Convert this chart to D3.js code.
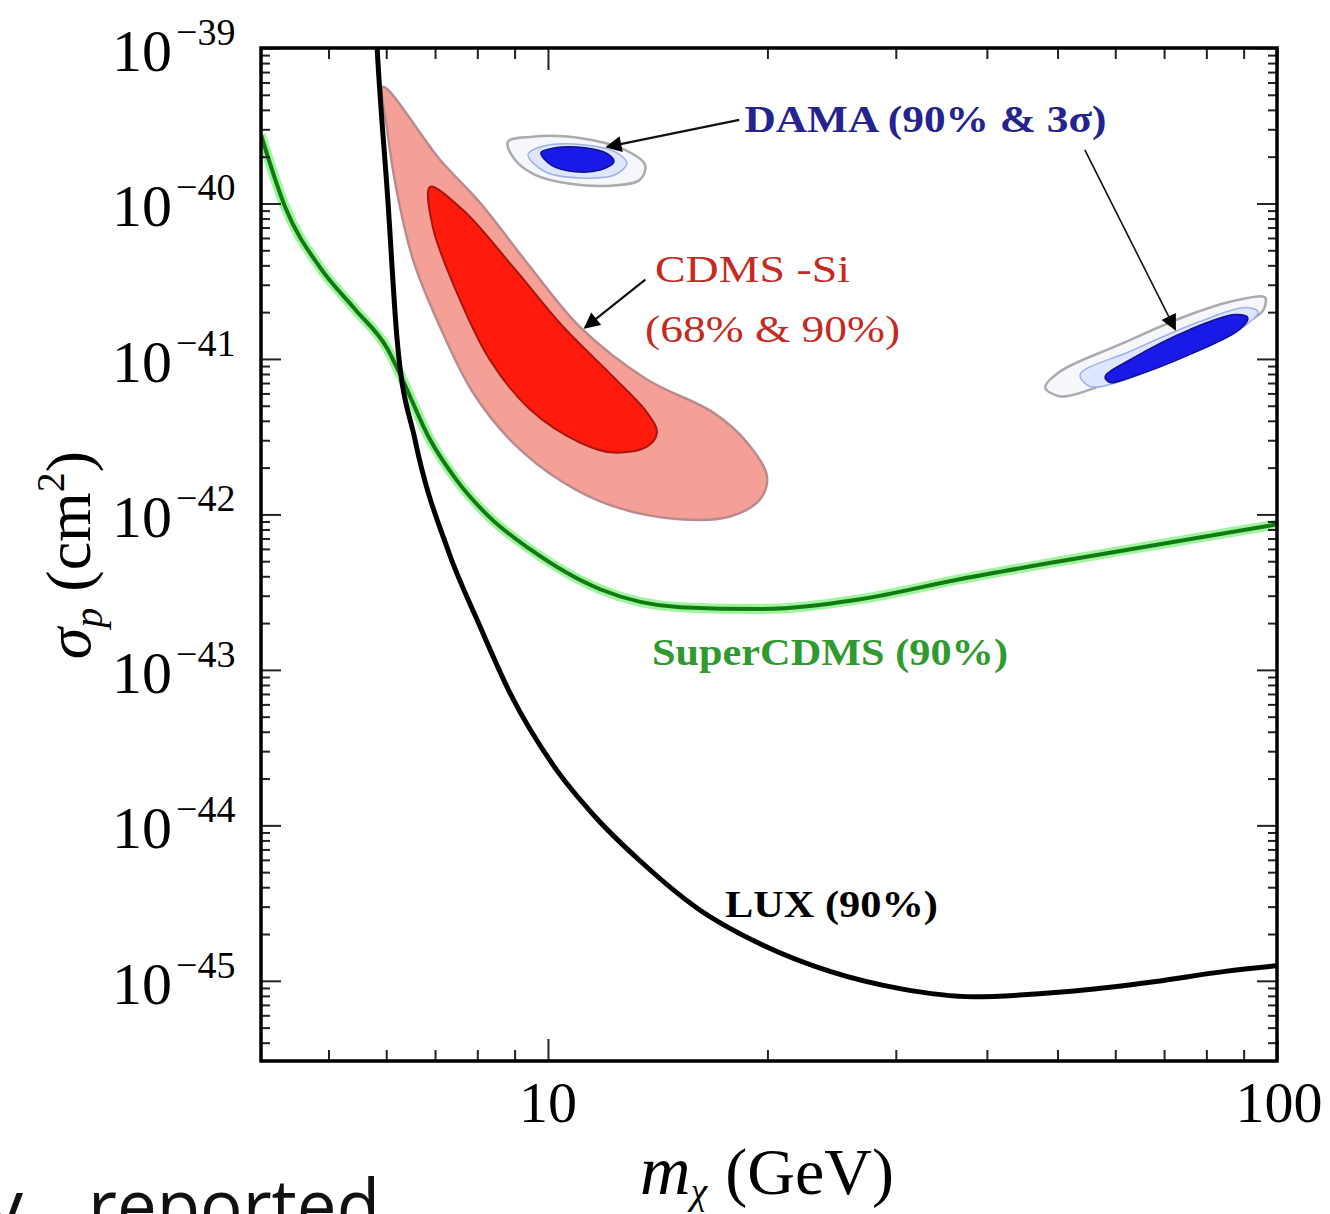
<!DOCTYPE html>
<html>
<head>
<meta charset="utf-8">
<script src="https://cdn.jsdelivr.net/npm/d3@7"></script>
<style>
  body { margin: 0; background: #fff; }
  svg { display: block; }
</style>
</head>
<body>
<svg id="chart" width="1330" height="1214"></svg>
<script>
// ---- data (mass in GeV, cross section in cm^2) ----
const luxLimit = [
  [5.76, 3e-39], [5.83, 1e-39], [6.03, 1.06e-40], [6.21, 1.33e-41], [6.57, 3.03e-42],
  [7.31, 5.71e-43], [8.02, 2.03e-43], [8.87, 7.1e-44], [10.16, 2.45e-44], [11.64, 1.12e-44],
  [13.37, 5.92e-45], [16.06, 2.91e-45], [19.54, 1.73e-45], [24.37, 1.15e-45], [30.4, 8.91e-46],
  [38.3, 7.9e-46], [51.2, 8.5e-46], [68.2, 9.9e-46], [84.9, 1.15e-45], [100, 1.25e-45]
];
const superCdmsLimit = [
  [4.04, 2.76e-40], [4.36, 9.5e-41], [4.87, 3.86e-41], [5.44, 2.08e-41], [6.03, 1.15e-41],
  [6.27, 7.94e-42], [6.89, 3.03e-42], [7.48, 1.68e-42], [8.32, 9.57e-43], [9.45, 5.97e-43],
  [11.79, 3.3e-43], [15.18, 2.53e-43], [19.54, 2.46e-43], [26.8, 2.85e-43], [36.7, 3.83e-43],
  [50.4, 5.0e-43], [69.1, 6.43e-43], [100, 8.63e-43]
];
const cdmsSi90 = [
  [5.94, 5.62e-40], [7.11, 1.91e-40], [8.07, 1.01e-40], [9.45, 3.92e-41], [11.06, 1.61e-41],
  [13.67, 7.38e-42], [16.84, 4.53e-42], [18.75, 2.9e-42], [19.97, 1.76e-42], [19.54, 1.25e-42],
  [17.77, 9.7e-43], [15.18, 9.3e-43], [12.28, 1.13e-42], [10.49, 1.61e-42], [8.95, 2.9e-42],
  [7.89, 6.08e-42], [7.11, 1.61e-41], [6.53, 4.35e-41], [6.21, 1.17e-40], [6.01, 3.11e-40]
];
const cdmsSi68 = [
  [6.89, 1.28e-40], [7.64, 9.1e-41], [8.95, 3.92e-41], [10.49, 1.61e-41], [12.28, 7.7e-42],
  [13.67, 4.53e-42], [14.11, 3.37e-42], [13.67, 2.73e-42], [12.28, 2.5e-42], [11.06, 2.9e-42],
  [9.45, 4.73e-42], [8.32, 9.9e-42], [7.50, 2.67e-41], [6.95, 7.08e-41]
];
const damaLowOuter = [
  [8.81, 2.49e-40], [9.45, 2.68e-40], [11.06, 2.64e-40], [12.75, 2.21e-40], [13.59, 1.77e-40],
  [13.37, 1.42e-40], [12.16, 1.30e-40], [10.72, 1.34e-40], [9.60, 1.53e-40], [9.01, 1.91e-40]
];
const damaLowMid = [
  [9.39, 2.06e-40], [9.91, 2.35e-40], [11.24, 2.38e-40], [12.36, 2.15e-40], [12.83, 1.82e-40],
  [12.36, 1.53e-40], [11.06, 1.46e-40], [9.91, 1.60e-40]
];
const damaLowInner = [
  [9.78, 2.12e-40], [10.22, 2.28e-40], [11.24, 2.28e-40], [12.09, 2.08e-40], [12.32, 1.85e-40],
  [11.79, 1.64e-40], [10.89, 1.60e-40], [10.13, 1.75e-40]
];
const damaHighOuter = [
  [48.1, 6.55e-42], [50.4, 8.3e-42], [60.9, 1.24e-41], [76.0, 1.93e-41], [88.9, 2.41e-41],
  [96.3, 2.48e-41], [95.4, 2.01e-41], [86.2, 1.55e-41], [69.1, 9.9e-42], [55.4, 6.35e-42],
  [50.4, 5.74e-42]
];
const damaHighMid = [
  [53.7, 7.94e-42], [62.9, 1.12e-41], [78.4, 1.74e-41], [90.4, 2.14e-41], [94.2, 2.01e-41],
  [88.9, 1.55e-41], [73.6, 1.02e-41], [60.9, 7.16e-42], [55.4, 6.65e-42]
];
const damaHighInner = [
  [58.1, 7.71e-42], [62.9, 9.9e-42], [76.0, 1.55e-41], [87.6, 1.93e-41], [91.2, 1.84e-41],
  [88.9, 1.55e-41], [76.0, 1.07e-41], [62.9, 7.6e-42], [59.0, 7.05e-42]
];

// tick values and labels
const xMajor = [10, 100];
const xMinor = [5, 6, 7, 8, 9, 20, 30, 40, 50, 60, 70, 80, 90];
const xTickLabels = ["10", "100"];
const yMajor = [1e-39, 1e-40, 1e-41, 1e-42, 1e-43, 1e-44, 1e-45];
const yTickExps = ["\u221239", "\u221240", "\u221241", "\u221242", "\u221243", "\u221244", "\u221245"];

// annotations: [mass, sigma] anchors
const labels = [
  {text: "DAMA (90% & 3\u03c3)", at: [18.6, 2.88e-40], color: "#25238f", weight: "bold", width: 362},
  {text: "CDMS -Si", at: [14.02, 3.14e-41], color: "#c42a22", weight: "normal", width: 195},
  {text: "(68% & 90%)", at: [13.59, 1.29e-41], color: "#c42a22", weight: "normal", width: 255},
  {text: "SuperCDMS (90%)", at: [13.89, 1.07e-43], color: "#2f9a2f", weight: "bold", width: 356},
  {text: "LUX (90%)", at: [17.49, 2.58e-45], color: "#000", weight: "bold", width: 213}
];
const arrows = [
  {from: [18.3, 3.45e-40], to: [12.05, 2.31e-40], w: 2.2},
  {from: [54.5, 2.21e-40], to: [72.5, 1.55e-41], w: 1.6},
  {from: [13.6, 3.24e-41], to: [11.24, 1.59e-41], w: 2.2}
];

// ---- layout ----
const svg = d3.select("#chart");
const plot = {left: 261, right: 1277, top: 48, bottom: 1061};
const serif = "'Liberation Serif', 'DejaVu Serif', serif";

const x = d3.scaleLog().domain([4.04, 100]).range([plot.left, plot.right]);
const y = d3.scaleLog().domain([3.05e-46, 1e-39]).range([plot.bottom, plot.top]);

const defs = svg.append("defs");
defs.append("clipPath").attr("id", "plotclip")
  .append("rect")
  .attr("x", plot.left).attr("y", plot.top)
  .attr("width", plot.right - plot.left).attr("height", plot.bottom - plot.top);

defs.append("marker")
  .attr("id", "arrowhead")
  .attr("viewBox", "0 0 10 10")
  .attr("refX", 9).attr("refY", 5)
  .attr("markerUnits", "userSpaceOnUse")
  .attr("markerWidth", 24).attr("markerHeight", 16)
  .attr("orient", "auto")
  .append("path")
  .attr("d", "M0,0 L10,5 L0,10 z")
  .attr("fill", "#000");

const g = svg.append("g").attr("clip-path", "url(#plotclip)");

const area = d3.line()
  .x(d => x(d[0])).y(d => y(d[1]))
  .curve(d3.curveCatmullRomClosed.alpha(0.5));
const curve = d3.line()
  .x(d => x(d[0])).y(d => y(d[1]))
  .curve(d3.curveMonotoneX);

// DAMA regions
[[damaLowOuter, damaLowMid, damaLowInner], [damaHighOuter, damaHighMid, damaHighInner]].forEach(function (set) {
  g.append("path").attr("d", area(set[0]))
    .attr("fill", "#f6f7fb").attr("stroke", "#a9abb0").attr("stroke-width", 2.5);
  g.append("path").attr("d", area(set[1]))
    .attr("fill", "#dfe6ff").attr("stroke", "#9fb0e8").attr("stroke-width", 1.5);
  g.append("path").attr("d", area(set[2]))
    .attr("fill", "#1a1ae8").attr("stroke", "#10108a").attr("stroke-width", 1.5);
});

// CDMS-Si regions
g.append("path").attr("d", area(cdmsSi90))
  .attr("fill", "#f5a096").attr("stroke", "#b98a8e").attr("stroke-width", 2.5);
g.append("path").attr("d", area(cdmsSi68))
  .attr("fill", "#ff1a0c").attr("stroke", "#a8140e").attr("stroke-width", 2);

// SuperCDMS limit (dark green with light halo)
g.append("path").attr("d", curve(superCdmsLimit))
  .attr("fill", "none").attr("stroke", "#7ef27e").attr("stroke-width", 10).attr("stroke-opacity", 0.75);
g.append("path").attr("d", curve(superCdmsLimit))
  .attr("fill", "none").attr("stroke", "#137a13").attr("stroke-width", 4);

// LUX limit
g.append("path").attr("d", curve(luxLimit))
  .attr("fill", "none").attr("stroke", "#000").attr("stroke-width", 5);

// arrows
arrows.forEach(function (a) {
  svg.append("line")
    .attr("x1", x(a.from[0])).attr("y1", y(a.from[1]))
    .attr("x2", x(a.to[0])).attr("y2", y(a.to[1]))
    .attr("stroke", "#111").attr("stroke-width", a.w)
    .attr("marker-end", "url(#arrowhead)");
});

// region / curve labels
labels.forEach(function (l) {
  svg.append("text")
    .attr("x", x(l.at[0])).attr("y", y(l.at[1]))
    .attr("font-family", serif)
    .attr("font-size", 38)
    .attr("font-weight", l.weight)
    .attr("fill", l.color)
    .attr("textLength", l.width)
    .attr("lengthAdjust", "spacingAndGlyphs")
    .text(l.text);
});

// ---- axes: inward ticks on all four sides ----
function noDomain(sel) { sel.select(".domain").remove(); }
function tickStyle(sel) {
  sel.selectAll(".tick line").attr("stroke", "#222").attr("stroke-width", 2);
}

let yMinor = [];
for (let e = -46; e <= -40; e++) {
  for (let k = 2; k <= 9; k++) {
    const v = k * Math.pow(10, e);
    if (v > 3.05e-46 && v < 1e-39) yMinor.push(v);
  }
}

svg.append("g").attr("transform", "translate(0," + plot.bottom + ")")
  .call(d3.axisBottom(x).tickValues(xMinor).tickSize(-11).tickFormat(""))
  .call(noDomain).call(tickStyle);
svg.append("g").attr("transform", "translate(0," + plot.bottom + ")")
  .call(d3.axisBottom(x).tickValues(xMajor).tickSize(-22).tickFormat(""))
  .call(noDomain).call(tickStyle);
svg.append("g").attr("transform", "translate(0," + plot.top + ")")
  .call(d3.axisTop(x).tickValues(xMinor).tickSize(-11).tickFormat(""))
  .call(noDomain).call(tickStyle);
svg.append("g").attr("transform", "translate(0," + plot.top + ")")
  .call(d3.axisTop(x).tickValues(xMajor).tickSize(-22).tickFormat(""))
  .call(noDomain).call(tickStyle);

svg.append("g").attr("transform", "translate(" + plot.left + ",0)")
  .call(d3.axisLeft(y).tickValues(yMinor).tickSize(-9).tickFormat(""))
  .call(noDomain).call(tickStyle);
svg.append("g").attr("transform", "translate(" + plot.left + ",0)")
  .call(d3.axisLeft(y).tickValues(yMajor).tickSize(-20).tickFormat(""))
  .call(noDomain).call(tickStyle);
svg.append("g").attr("transform", "translate(" + plot.right + ",0)")
  .call(d3.axisRight(y).tickValues(yMinor).tickSize(-9).tickFormat(""))
  .call(noDomain).call(tickStyle);
svg.append("g").attr("transform", "translate(" + plot.right + ",0)")
  .call(d3.axisRight(y).tickValues(yMajor).tickSize(-20).tickFormat(""))
  .call(noDomain).call(tickStyle);

// frame
svg.append("rect")
  .attr("x", plot.left).attr("y", plot.top)
  .attr("width", plot.right - plot.left).attr("height", plot.bottom - plot.top)
  .attr("fill", "none").attr("stroke", "#000").attr("stroke-width", 3.5);

// y tick labels 10^n
yMajor.forEach(function (v, i) {
  const t = svg.append("text")
    .attr("x", 112).attr("y", y(v) + 23)
    .attr("font-family", serif).attr("fill", "#000");
  t.append("tspan").attr("font-size", 60).text("10");
  t.append("tspan").attr("font-size", 38).attr("dy", -26).attr("dx", 4).text(yTickExps[i]);
});

// x tick labels
xMajor.forEach(function (v, i) {
  svg.append("text")
    .attr("x", x(v) + (i === 1 ? 2 : 0)).attr("y", 1122)
    .attr("text-anchor", "middle")
    .attr("font-family", serif).attr("font-size", 58).attr("fill", "#000")
    .text(xTickLabels[i]);
});

// x axis title
const xt = svg.append("text")
  .attr("x", 640).attr("y", 1194)
  .attr("font-family", serif).attr("fill", "#000");
xt.append("tspan").attr("font-size", 70).attr("font-style", "italic").text("m");
xt.append("tspan").attr("font-size", 38).attr("font-style", "italic").attr("dy", 10).text("\u03c7");
xt.append("tspan").attr("font-size", 66).attr("dy", -10).attr("dx", 18).text("(GeV)");

// y axis title
const yt = svg.append("text")
  .attr("transform", "translate(90,555) rotate(-90)")
  .attr("text-anchor", "middle")
  .attr("font-family", serif).attr("fill", "#000");
yt.append("tspan").attr("font-size", 64).attr("font-style", "italic").text("\u03c3");
yt.append("tspan").attr("font-size", 40).attr("font-style", "italic").attr("dy", 12).text("p");
yt.append("tspan").attr("font-size", 64).attr("dy", -12).text(" (cm");
yt.append("tspan").attr("font-size", 40).attr("dy", -26).text("2");
yt.append("tspan").attr("font-size", 64).attr("dy", 26).text(")");

// slide text cut off at the bottom edge
svg.append("text")
  .attr("x", -14).attr("y", 1232)
  .attr("font-family", "'Open Sans', sans-serif").attr("font-size", 74).attr("fill", "#111")
  .text("y");
svg.append("text")
  .attr("x", 88).attr("y", 1232)
  .attr("font-family", "'Open Sans', sans-serif").attr("font-size", 74).attr("fill", "#111")
  .attr("textLength", 292).attr("lengthAdjust", "spacingAndGlyphs")
  .text("reported");
</script>
</body>
</html>
